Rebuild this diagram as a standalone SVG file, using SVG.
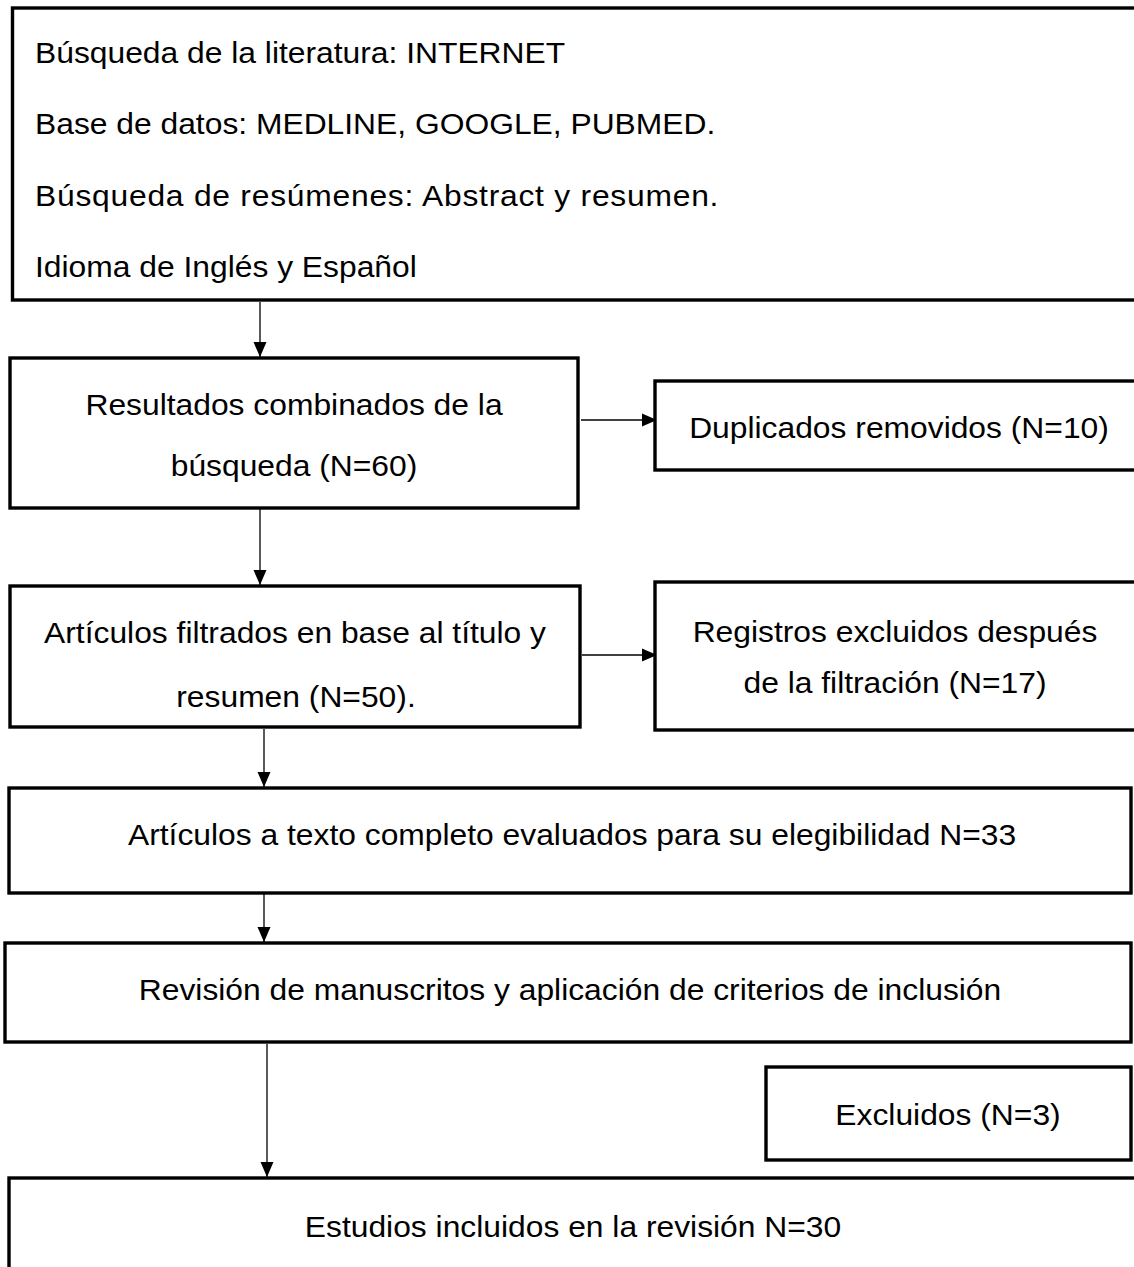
<svg xmlns="http://www.w3.org/2000/svg" width="1134" height="1267" viewBox="0 0 1134 1267">
<style>
.box{fill:#fff;stroke:#000;stroke-width:3.4}
.t{font-family:"Liberation Sans",Arial,sans-serif;font-size:29px;fill:#000}
.c{text-anchor:middle}
.ln{stroke:#000;stroke-width:1.3;fill:none}
</style>
<defs>
<marker id="ah" markerUnits="userSpaceOnUse" markerWidth="16" markerHeight="16" viewBox="0 0 16 16" refX="15" refY="8" orient="auto">
<path d="M0,1.5 L15,8 L0,14.5 Z" fill="#000"/>
</marker>
</defs>
<rect width="1134" height="1267" fill="#fff"/>
<g id="connectors">
<line class="ln" x1="260" y1="302" x2="260" y2="357" marker-end="url(#ah)"/>
<line class="ln" x1="581" y1="420" x2="657" y2="420" marker-end="url(#ah)"/>
<line class="ln" x1="260" y1="509" x2="260" y2="585" marker-end="url(#ah)"/>
<line class="ln" x1="582" y1="655" x2="657" y2="655" marker-end="url(#ah)"/>
<line class="ln" x1="264" y1="729" x2="264" y2="787" marker-end="url(#ah)"/>
<line class="ln" x1="264" y1="894" x2="264" y2="942" marker-end="url(#ah)"/>
<line class="ln" x1="267" y1="1044" x2="267" y2="1177" marker-end="url(#ah)"/>
</g>
<g id="n1">
<rect class="box" x="12.5" y="8" width="1140" height="292"/>
<text class="t" transform="translate(35,63) scale(1.097,1)">Búsqueda de la literatura: INTERNET</text>
<text class="t" transform="translate(35,134) scale(1.097,1)">Base de datos: MEDLINE, GOOGLE, PUBMED.</text>
<text class="t" transform="translate(35,206) scale(1.097,1)" textLength="623" lengthAdjust="spacing">Búsqueda de resúmenes: Abstract y resumen.</text>
<text class="t" transform="translate(35,277) scale(1.097,1)">Idioma de Inglés y Español</text>
</g>
<g id="n2">
<rect class="box" x="10" y="358" width="568" height="150"/>
<text class="t c" transform="translate(294,415) scale(1.097,1)">Resultados combinados de la</text>
<text class="t c" transform="translate(294,476) scale(1.097,1)">búsqueda (N=60)</text>
</g>
<g id="n3">
<rect class="box" x="655" y="381" width="500" height="89"/>
<text class="t c" transform="translate(899,438) scale(1.097,1)">Duplicados removidos (N=10)</text>
</g>
<g id="n4">
<rect class="box" x="10" y="586" width="570" height="141"/>
<text class="t c" transform="translate(295,643) scale(1.097,1)">Artículos filtrados en base al título y</text>
<text class="t c" transform="translate(296,707) scale(1.097,1)">resumen (N=50).</text>
</g>
<g id="n5">
<rect class="box" x="655" y="582" width="500" height="148"/>
<text class="t c" transform="translate(895,642) scale(1.097,1)">Registros excluidos después</text>
<text class="t c" transform="translate(895,693) scale(1.097,1)">de la filtración (N=17)</text>
</g>
<g id="n6">
<rect class="box" x="9" y="788" width="1122" height="105"/>
<text class="t c" transform="translate(572,845) scale(1.097,1)">Artículos a texto completo evaluados para su elegibilidad N=33</text>
</g>
<g id="n7">
<rect class="box" x="5" y="943" width="1126" height="99"/>
<text class="t c" transform="translate(570,1000) scale(1.097,1)">Revisión de manuscritos y aplicación de criterios de inclusión</text>
</g>
<g id="n8">
<rect class="box" x="766" y="1067" width="365" height="93"/>
<text class="t c" transform="translate(948,1125) scale(1.097,1)">Excluidos (N=3)</text>
</g>
<g id="n9">
<rect class="box" x="9" y="1178" width="1140" height="200"/>
<text class="t c" transform="translate(573,1237) scale(1.097,1)">Estudios incluidos en la revisión N=30</text>
</g>
</svg>
